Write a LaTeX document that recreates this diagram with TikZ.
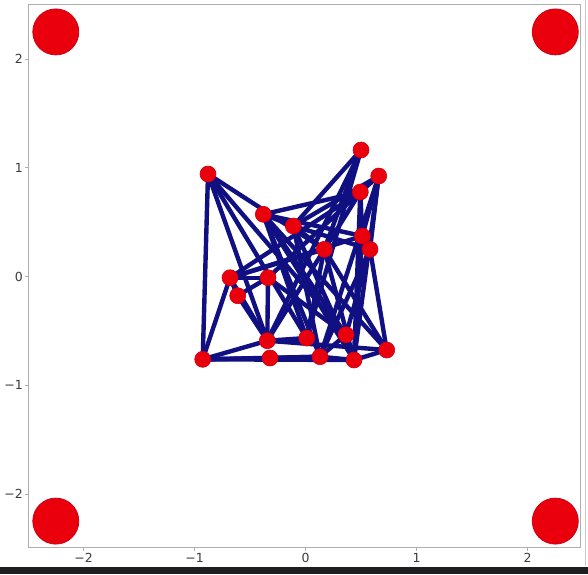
\documentclass[tikz,border=0pt]{standalone}
\usepackage{fontspec}
\setmainfont{DejaVu Sans}
\usetikzlibrary{backgrounds}
\definecolor{nodered}{RGB}{234,0,12}
\definecolor{noderim}{RGB}{205,0,20}
\definecolor{edgenavy}{RGB}{16,16,130}
\definecolor{framegray}{RGB}{175,175,175}
\definecolor{ticktext}{RGB}{60,60,60}
\definecolor{barblack}{RGB}{30,30,32}
\tikzset{
  sn/.style={circle, fill=nodered, draw=noderim, line width=0.6pt, minimum size=16pt, inner sep=0pt},
  bn/.style={circle, fill=nodered, draw=noderim, line width=0.8pt, minimum size=46pt, inner sep=0pt},
  edge/.style={draw=edgenavy, line width=4.4pt},
  frame/.style={draw=framegray, line width=1pt},
  tick/.style={draw=framegray, line width=0.8pt},
  ylab/.style={anchor=east, text=ticktext, font=\fontsize{12.5}{14}\selectfont, inner sep=0pt},
  xlab/.style={anchor=north, text=ticktext, font=\fontsize{12.5}{14}\selectfont, inner sep=0pt}
}
\begin{document}
\begin{tikzpicture}[x=1pt, y=-1pt]
\useasboundingbox (0,0) rectangle (588,574);
\begin{scope}[on background layer]
  \fill[white] (0,0) rectangle (588,574);
  \fill[barblack] (0,566.5) rectangle (588,574);
  \draw[frame] (28,4) rectangle (580,547.3);
  \draw[draw=framegray!70, line width=0.8pt] (585,0) -- (585,566);
\end{scope}
% ticks and labels
\foreach \v/\t in {2/2, 1/1, 0/0, -1/{−1}, -2/{−2}} {
  \coordinate (yt\v) at (28,276.5-108.7*\v);
  \draw[tick] (yt\v) -- ++(-3.5,0);
  \node[ylab] (yl\v) at (23,276.5-108.7*\v) {\t};
}
\foreach \v/\t in {2/2, 1/1, 0/0, -1/{−1}, -2/{−2}} {
  \coordinate (xt\v) at (305.5+111*\v,547.3);
  \draw[tick] (xt\v) -- ++(0,3.5);
  \node[xlab] (xl\v) at (305.5+111*\v,553) {\t};
}
% corner nodes
\node[bn] (c1) at (55.8,31.9) {};
\node[bn] (c2) at (555.3,31.9) {};
\node[bn] (c3) at (55.8,521.1) {};
\node[bn] (c4) at (555.3,521.1) {};
% small nodes
\node[sn] (A) at (208,174) {};
\node[sn] (B) at (361,150) {};
\node[sn] (C) at (378.7,176) {};
\node[sn] (D) at (360.3,192) {};
\node[sn] (E) at (263.3,214.3) {};
\node[sn] (F) at (293.3,226) {};
\node[sn] (G) at (362.3,236) {};
\node[sn] (H) at (324.3,249.3) {};
\node[sn] (I) at (370,249.3) {};
\node[sn] (J) at (230,277.7) {};
\node[sn] (K) at (268,277.7) {};
\node[sn] (L) at (237.7,295.7) {};
\node[sn] (M) at (267.3,340.7) {};
\node[sn] (N) at (306.7,338) {};
\node[sn] (O) at (346,334.7) {};
\node[sn] (P) at (386.7,350) {};
\node[sn] (Q) at (202.7,359.3) {};
\node[sn] (R) at (270,358) {};
\node[sn] (S) at (320,356.7) {};
\node[sn] (T) at (354,360) {};
\begin{scope}[on background layer]
\foreach \a/\b in {A/Q, A/M, A/N, A/O, A/H,
  B/F, B/M, B/H, B/N,
  C/F, C/G, C/I, C/S, C/T, C/D,
  D/E, D/G, D/M, D/K, D/T, D/J,
  E/F, E/G, E/O, E/P, E/N, E/S, E/T,
  F/I, F/S, F/T, F/H,
  G/I, G/T, G/J,
  H/N, H/T, H/P,
  I/P, I/O, I/S,
  J/K, J/L, J/Q, J/M, J/H,
  K/L, K/M, K/O,
  L/M,
  M/N, M/P,
  Q/R, Q/S, Q/T, Q/M,
  R/S, R/T, S/T, T/P, O/S}
  \draw[edge] (\a.center) -- (\b.center);
\end{scope}
\end{tikzpicture}
\end{document}
